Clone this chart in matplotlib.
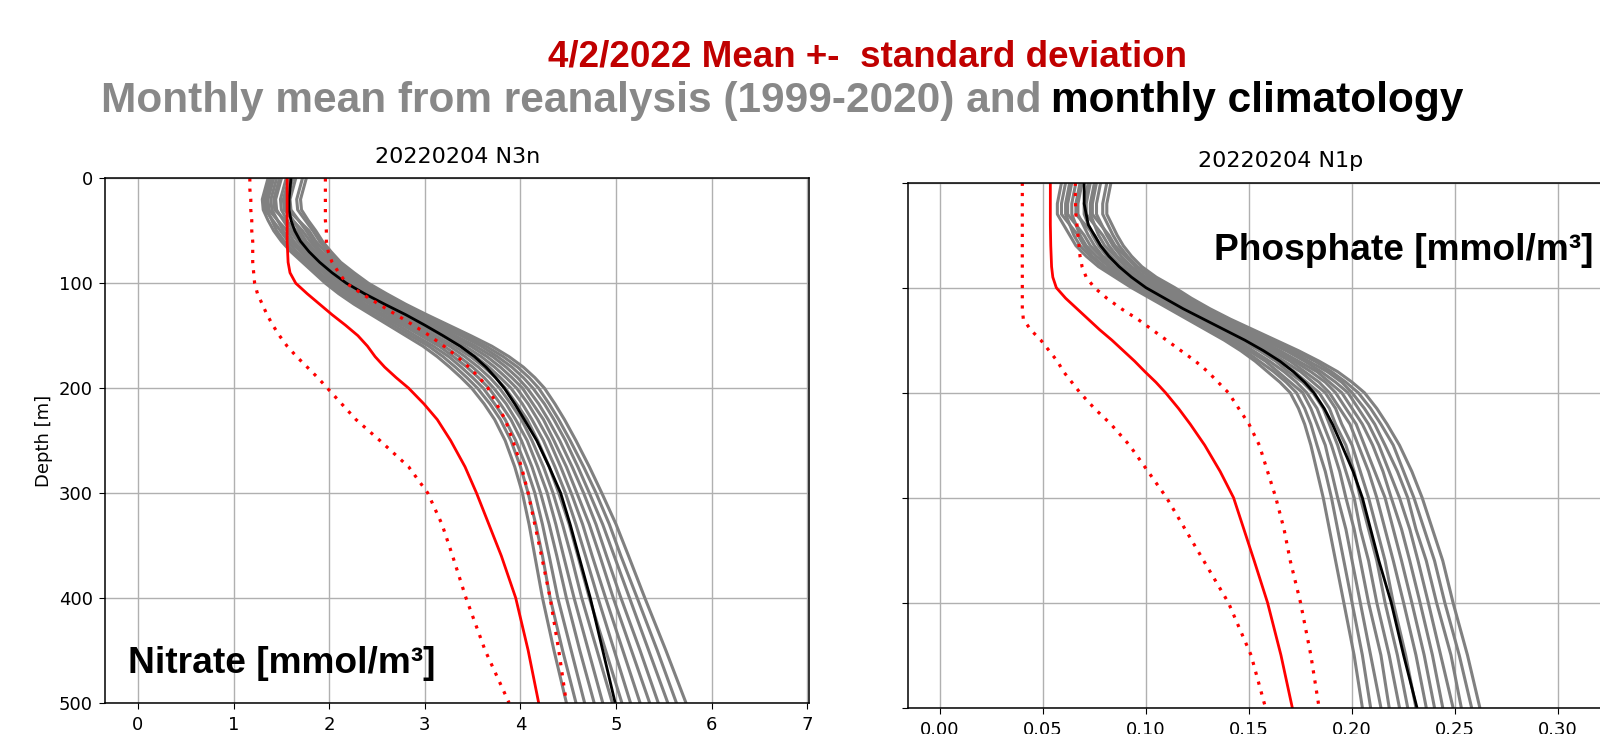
import numpy as np
import matplotlib
matplotlib.use('Agg')
import matplotlib.pyplot as plt

# depth levels [m]
depth = [0, 10, 20, 30, 40, 50, 60, 70, 80, 90, 100, 110, 120, 130, 140, 150, 160, 170,
         180, 190, 200, 215, 230, 250, 275, 300, 330, 360, 400, 450, 500]

# nitrate, reanalysis years 1999-2020 (one row per depth level, one column per year)
n3n_years = [
    [1.36, 1.40, 1.38, 1.45, 1.42, 1.50, 1.55, 1.48, 1.60, 1.58, 1.65, 1.62, 1.72, 1.76],
    [1.33, 1.37, 1.35, 1.42, 1.39, 1.47, 1.52, 1.45, 1.57, 1.55, 1.62, 1.59, 1.69, 1.73],
    [1.30, 1.34, 1.32, 1.39, 1.36, 1.44, 1.49, 1.42, 1.54, 1.52, 1.59, 1.56, 1.66, 1.70],
    [1.31, 1.35, 1.33, 1.40, 1.37, 1.45, 1.50, 1.43, 1.55, 1.53, 1.60, 1.57, 1.67, 1.71],
    [1.36, 1.40, 1.41, 1.46, 1.46, 1.52, 1.56, 1.54, 1.62, 1.62, 1.68, 1.68, 1.75, 1.78],
    [1.42, 1.45, 1.49, 1.52, 1.56, 1.59, 1.62, 1.66, 1.69, 1.72, 1.76, 1.79, 1.83, 1.86],
    [1.50, 1.53, 1.57, 1.60, 1.63, 1.67, 1.70, 1.73, 1.76, 1.80, 1.83, 1.86, 1.90, 1.93],
    [1.60, 1.63, 1.66, 1.70, 1.73, 1.76, 1.79, 1.83, 1.86, 1.89, 1.92, 1.96, 1.99, 2.02],
    [1.72, 1.75, 1.78, 1.81, 1.84, 1.87, 1.90, 1.94, 1.97, 2.00, 2.03, 2.06, 2.09, 2.12],
    [1.84, 1.87, 1.90, 1.94, 1.97, 2.00, 2.03, 2.07, 2.10, 2.13, 2.16, 2.20, 2.23, 2.26],
    [1.96, 1.99, 2.03, 2.06, 2.10, 2.13, 2.17, 2.20, 2.24, 2.27, 2.31, 2.34, 2.38, 2.41],
    [2.10, 2.14, 2.18, 2.22, 2.25, 2.29, 2.33, 2.37, 2.41, 2.45, 2.48, 2.52, 2.56, 2.60],
    [2.26, 2.30, 2.34, 2.38, 2.43, 2.47, 2.51, 2.55, 2.59, 2.63, 2.68, 2.72, 2.76, 2.80],
    [2.44, 2.48, 2.53, 2.57, 2.62, 2.66, 2.71, 2.75, 2.80, 2.84, 2.89, 2.93, 2.98, 3.02],
    [2.62, 2.67, 2.72, 2.77, 2.81, 2.86, 2.91, 2.96, 3.01, 3.06, 3.11, 3.15, 3.20, 3.25],
    [2.80, 2.85, 2.90, 2.96, 3.01, 3.06, 3.11, 3.17, 3.22, 3.27, 3.32, 3.38, 3.43, 3.48],
    [2.98, 3.04, 3.09, 3.15, 3.20, 3.26, 3.31, 3.37, 3.42, 3.48, 3.53, 3.59, 3.64, 3.70],
    [3.13, 3.19, 3.25, 3.30, 3.36, 3.42, 3.48, 3.53, 3.59, 3.65, 3.71, 3.76, 3.82, 3.88],
    [3.26, 3.32, 3.38, 3.44, 3.50, 3.56, 3.62, 3.67, 3.73, 3.79, 3.85, 3.91, 3.97, 4.03],
    [3.38, 3.44, 3.50, 3.56, 3.62, 3.68, 3.74, 3.79, 3.85, 3.91, 3.97, 4.03, 4.09, 4.15],
    [3.49, 3.55, 3.61, 3.67, 3.72, 3.78, 3.84, 3.90, 3.96, 4.02, 4.07, 4.13, 4.19, 4.25],
    [3.62, 3.68, 3.73, 3.79, 3.85, 3.90, 3.96, 4.02, 4.08, 4.13, 4.19, 4.25, 4.30, 4.36],
    [3.73, 3.79, 3.84, 3.90, 3.95, 4.01, 4.07, 4.12, 4.18, 4.24, 4.29, 4.35, 4.40, 4.46],
    [3.84, 3.90, 3.95, 4.01, 4.07, 4.12, 4.18, 4.24, 4.30, 4.35, 4.41, 4.47, 4.52, 4.58],
    [3.94, 4.00, 4.06, 4.12, 4.18, 4.24, 4.30, 4.36, 4.42, 4.48, 4.54, 4.60, 4.66, 4.72],
    [4.02, 4.08, 4.15, 4.21, 4.28, 4.34, 4.40, 4.47, 4.53, 4.59, 4.66, 4.72, 4.79, 4.85],
    [4.09, 4.16, 4.23, 4.30, 4.37, 4.44, 4.51, 4.58, 4.65, 4.72, 4.79, 4.86, 4.93, 5.00],
    [4.15, 4.23, 4.30, 4.38, 4.45, 4.53, 4.60, 4.68, 4.75, 4.83, 4.90, 4.98, 5.05, 5.13],
    [4.23, 4.31, 4.39, 4.48, 4.56, 4.64, 4.72, 4.81, 4.89, 4.97, 5.05, 5.14, 5.22, 5.30],
    [4.35, 4.44, 4.53, 4.62, 4.71, 4.80, 4.89, 4.98, 5.07, 5.16, 5.25, 5.34, 5.43, 5.52],
    [4.48, 4.58, 4.67, 4.77, 4.86, 4.96, 5.06, 5.15, 5.25, 5.35, 5.44, 5.54, 5.63, 5.73],
]
n3n_clim = [1.60, 1.59, 1.58, 1.58, 1.60, 1.64, 1.70, 1.79, 1.90, 2.03, 2.18, 2.37, 2.58, 2.80,
            3.00, 3.19, 3.37, 3.52, 3.64, 3.74, 3.83, 3.94, 4.04, 4.17, 4.30, 4.42, 4.52,
            4.61, 4.73, 4.86, 4.99]
n3n_mean = [1.56, 1.56, 1.56, 1.56, 1.56, 1.56, 1.56, 1.565, 1.57, 1.59, 1.65, 1.77, 1.90,
            2.03, 2.17, 2.30, 2.40, 2.48, 2.58, 2.70, 2.83, 2.99, 3.13, 3.27, 3.42, 3.54,
            3.67, 3.80, 3.95, 4.08, 4.19]
n3n_low = [1.17, 1.17, 1.18, 1.18, 1.19, 1.19, 1.20, 1.20, 1.20, 1.21, 1.22, 1.25, 1.30, 1.35,
           1.41, 1.48, 1.56, 1.66, 1.77, 1.88, 1.98, 2.13, 2.28, 2.53, 2.83, 3.03, 3.18,
           3.29, 3.43, 3.63, 3.88]
n3n_high = [1.96, 1.96, 1.96, 1.96, 1.96, 1.97, 1.97, 1.99, 2.03, 2.10, 2.18, 2.34, 2.52, 2.70,
            2.88, 3.05, 3.20, 3.34, 3.46, 3.57, 3.66, 3.75, 3.84, 3.92, 4.01, 4.08, 4.15,
            4.22, 4.31, 4.40, 4.48]

# phosphate, reanalysis years 1999-2020
n1p_years = [
    [.059, .063, .061, .066, .064, .069, .072, .068, .075, .073, .078, .076, .081, .083],
    [.058, .062, .060, .065, .063, .068, .071, .067, .074, .072, .077, .075, .080, .082],
    [.057, .061, .059, .064, .062, .067, .070, .066, .073, .071, .076, .074, .079, .081],
    [.057, .061, .059, .064, .062, .067, .070, .066, .073, .071, .076, .074, .079, .081],
    [.060, .063, .063, .066, .066, .0695, .072, .0705, .075, .075, .0785, .078, .0815, .0835],
    [.063, .065, .067, .068, .070, .072, .074, .075, .077, .079, .081, .082, .084, .086],
    [.066, .068, .070, .071, .073, .075, .077, .078, .080, .082, .084, .085, .087, .089],
    [.071, .073, .074, .076, .078, .079, .081, .083, .085, .086, .088, .090, .091, .093],
    [.077, .079, .080, .082, .083, .085, .087, .088, .090, .092, .093, .095, .096, .098],
    [.085, .087, .088, .090, .091, .093, .094, .096, .097, .099, .100, .102, .103, .105],
    [.093, .095, .096, .098, .099, .101, .103, .104, .106, .108, .109, .111, .112, .114],
    [.102, .104, .105, .107, .108, .110, .111, .113, .114, .116, .117, .119, .120, .122],
    [.111, .113, .114, .116, .117, .119, .120, .122, .123, .125, .126, .128, .129, .131],
    [.120, .122, .123, .125, .126, .128, .130, .131, .133, .135, .136, .138, .139, .141],
    [.129, .131, .133, .134, .136, .138, .140, .141, .143, .145, .147, .148, .150, .152],
    [.138, .140, .142, .144, .146, .148, .150, .151, .153, .155, .157, .159, .161, .163],
    [.146, .148, .150, .152, .155, .157, .159, .161, .163, .165, .168, .170, .172, .174],
    [.153, .155, .158, .160, .163, .165, .167, .170, .172, .174, .177, .179, .182, .184],
    [.159, .162, .164, .167, .169, .172, .175, .177, .180, .183, .185, .188, .190, .193],
    [.165, .168, .170, .173, .176, .178, .181, .184, .187, .189, .192, .195, .197, .200],
    [.170, .173, .176, .178, .181, .184, .187, .189, .192, .195, .198, .200, .203, .206],
    [.174, .177, .180, .183, .186, .189, .192, .194, .197, .200, .203, .206, .209, .212],
    [.177, .180, .183, .186, .189, .192, .195, .199, .202, .205, .208, .211, .214, .217],
    [.180, .183, .187, .190, .193, .197, .200, .203, .206, .210, .213, .216, .220, .223],
    [.183, .187, .190, .194, .197, .201, .204, .208, .211, .215, .218, .222, .225, .229],
    [.186, .190, .193, .197, .201, .204, .208, .212, .216, .219, .223, .227, .230, .234],
    [.189, .193, .197, .201, .204, .208, .212, .216, .220, .224, .228, .231, .235, .239],
    [.192, .196, .200, .204, .208, .212, .216, .220, .224, .228, .232, .236, .240, .244],
    [.196, .200, .204, .208, .212, .216, .220, .225, .229, .233, .237, .241, .245, .249],
    [.201, .205, .209, .214, .218, .222, .226, .231, .235, .239, .243, .248, .252, .256],
    [.205, .209, .214, .218, .223, .227, .231, .236, .240, .244, .249, .253, .258, .262],
]
n1p_clim = [.070, .070, .070, .071, .072, .075, .078, .082, .087, .093, .100, .109, .118, .128,
            .138, .148, .157, .165, .1715, .177, .1815, .1865, .1905, .195, .2005, .205, .209,
            .213, .219, .225, .2315]
n1p_mean = [.0536, .0536, .0536, .0536, .0536, .0537, .0538, .054, .0542, .0548, .0565, .061,
            .0665, .072, .0775, .0835, .089, .0945, .0995, .1048, .1095, .1158, .1215, .1285,
            .136, .1425, .1475, .1525, .159, .1655, .171]
n1p_low = [.040, .040, .040, .040, .040, .040, .040, .040, .040, .040, .040, .040, .040, .0405,
           .044, .049, .053, .057, .060, .064, .068, .075, .083, .092, .101, .110, .119,
           .128, .140, .151, .158]
n1p_high = [.0657, .0657, .0658, .066, .0665, .067, .0675, .068, .069, .071, .075, .081, .088,
            .096, .103, .110, .117, .124, .130, .135, .140, .145, .150, .155, .159, .163,
            .167, .170, .175, .180, .184]

plt.rcParams['xtick.labelsize'] = 13
plt.rcParams['ytick.labelsize'] = 13
plt.rcParams['xtick.major.size'] = 4.6
plt.rcParams['ytick.major.size'] = 4.6
plt.rcParams['xtick.major.pad'] = 4.6
plt.rcParams['ytick.major.pad'] = 4.6
plt.rcParams['axes.linewidth'] = 1.1
plt.rcParams['grid.linewidth'] = 1.0

fig = plt.figure(figsize=(16, 7.34), dpi=100)
ax1 = fig.add_axes([0.0659, 0.0426, 0.4399, 0.7144])
ax2 = fig.add_axes([0.5672, 0.0358, 0.4453, 0.7153])


def draw(ax, years, clim, mean, low, high):
    ax.plot(np.array(years), depth, color='gray', linewidth=2.2)
    ax.plot(clim, depth, color='black', linewidth=2)
    ax.plot(mean, depth, color='red', linewidth=2)
    ax.plot(low, depth, color='red', linestyle=(0, (1, 2.2)), linewidth=2.3)
    ax.plot(high, depth, color='red', linestyle=(0, (1, 2.2)), linewidth=2.3)
    ax.set_ylim(500, 0)
    ax.grid(True)


draw(ax1, n3n_years, n3n_clim, n3n_mean, n3n_low, n3n_high)
ax1.set_xlim(-0.34, 7.02)
ax1.set_xticks(range(0, 8))
ax1.set_ylabel('Depth [m]', fontsize=13)
ax1.set_title('20220204 N3n', fontsize=16, pad=11)

draw(ax2, n1p_years, n1p_clim, n1p_mean, n1p_low, n1p_high)
ax2.set_xlim(-0.0157, 0.33)
ax2.set_xticks([0.0, 0.05, 0.10, 0.15, 0.20, 0.25, 0.30])
ax2.set_xticklabels(['0.00', '0.05', '0.10', '0.15', '0.20', '0.25', '0.30'])
ax2.set_yticklabels([])
ax2.set_title('20220204 N1p', fontsize=16, pad=11)
# title sits over the visible part of the cropped panel
ax2.title.set_x(0.523)

fig.text(0.08, 0.0831, 'Nitrate [mmol/m³]', fontsize=26.7, fontweight='bold',
         family='Liberation Sans', va='baseline')
fig.text(0.759, 0.6458, 'Phosphate [mmol/m³]', fontsize=26.7, fontweight='bold',
         family='Liberation Sans', va='baseline')

fig.text(867 / 1600, 0.9091, '4/2/2022 Mean +-  standard deviation', fontsize=26.5,
         fontweight='bold', color='#c00000', family='Liberation Sans',
         ha='center', va='baseline')

# second header line: gray part + black part, centred together
t_gray = fig.text(0, 0.8474, 'Monthly mean from reanalysis (1999-2020) and', fontsize=30.5,
                  fontweight='bold', color='#888888', family='Liberation Sans',
                  ha='left', va='baseline')
t_black = fig.text(0, 0.8474, 'monthly climatology', fontsize=30.5,
                   fontweight='bold', color='black', family='Liberation Sans',
                   ha='left', va='baseline')
r = fig.canvas.get_renderer()
wg = t_gray.get_window_extent(r).width
wb = t_black.get_window_extent(r).width
gap = 10
x0 = 782 - (wg + gap + wb) / 2
t_gray.set_x(x0 / 1600)
t_black.set_x((x0 + wg + gap) / 1600)

plt.savefig('out.png', dpi=100)
plt.close()
